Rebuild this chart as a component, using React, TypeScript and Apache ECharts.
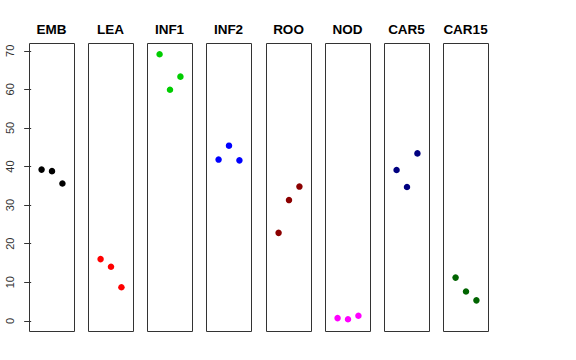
import React, { useEffect, useRef } from "react";
import * as echarts from "echarts";

const panels = ["EMB", "LEA", "INF1", "INF2", "ROO", "NOD", "CAR5", "CAR15"];
const colors = ["#000000", "#FF0000", "#00CD00", "#0000FF", "#8B0000", "#FF00FF", "#000080", "#006400"];
const xPositions = [1, 2, 3];
const values = [
  [39.2, 38.8, 35.6],
  [16.0, 14.0, 8.7],
  [69.1, 59.9, 63.3],
  [41.8, 45.4, 41.6],
  [22.8, 31.3, 34.8],
  [0.7, 0.4, 1.3],
  [39.1, 34.7, 43.4],
  [11.2, 7.6, 5.3],
];
const yTicks = [0, 10, 20, 30, 40, 50, 60, 70];

export default function App() {
  const ref = useRef<HTMLDivElement>(null);
  useEffect(() => {
    if (!ref.current) return;
    const chart = echarts.init(ref.current, undefined, { renderer: "svg" });
    const firstLeft = 28.7;
    const step = 59.2;
    const w = 45;
    const top = 43;
    const h = 288;
    const font = "'Liberation Sans', Arial, Helvetica, sans-serif";
    const grids = panels.map((_, i) => ({
      left: Math.round(firstLeft + i * step) + 0.5,
      top: top + 0.5,
      width: w,
      height: h,
      show: true,
      borderColor: "#333",
      borderWidth: 1,
      backgroundColor: "transparent",
    }));
    const xAxes = panels.map((_, i) => ({
      gridIndex: i,
      type: "value",
      min: -0.16,
      max: 4.16,
      show: false,
    }));
    const yAxes = panels.map((_, i) => ({
      gridIndex: i,
      type: "value",
      min: -2.77,
      max: 71.89,
      show: i === 0,
      splitLine: { show: false },
      axisLine: { show: false },
      axisTick: {
        show: i === 0,
        length: 7,
        customValues: yTicks,
        lineStyle: { color: "#333" },
      },
      axisLabel: {
        show: i === 0,
        customValues: yTicks,
        rotate: 90,
        margin: 14,
        color: "#333",
        fontSize: 11,
        fontFamily: font,
      },
    }));
    const series = panels.map((_, i) => ({
      type: "scatter",
      xAxisIndex: i,
      yAxisIndex: i,
      symbolSize: 6.5,
      itemStyle: { color: colors[i], opacity: 1 },
      data: values[i].map((v, j) => [xPositions[j], v]),
    }));
    const graphics = panels.map((name, i) => ({
      type: "text",
      x: Math.round(firstLeft + i * step) + w / 2,
      y: 29,
      style: {
        text: name,
        fontSize: 13.5,
        fontWeight: "bold",
        fontFamily: font,
        fill: "#000",
        textAlign: "center",
        textVerticalAlign: "middle",
      },
    }));
    chart.setOption({
      animation: false,
      backgroundColor: "#fff",
      grid: grids,
      xAxis: xAxes,
      yAxis: yAxes,
      series,
      graphic: graphics,
    });
    return () => chart.dispose();
  }, []);
  return <div ref={ref} style={{ width: 576, height: 360, position: "absolute", left: 0, top: 0 }} />;
}
